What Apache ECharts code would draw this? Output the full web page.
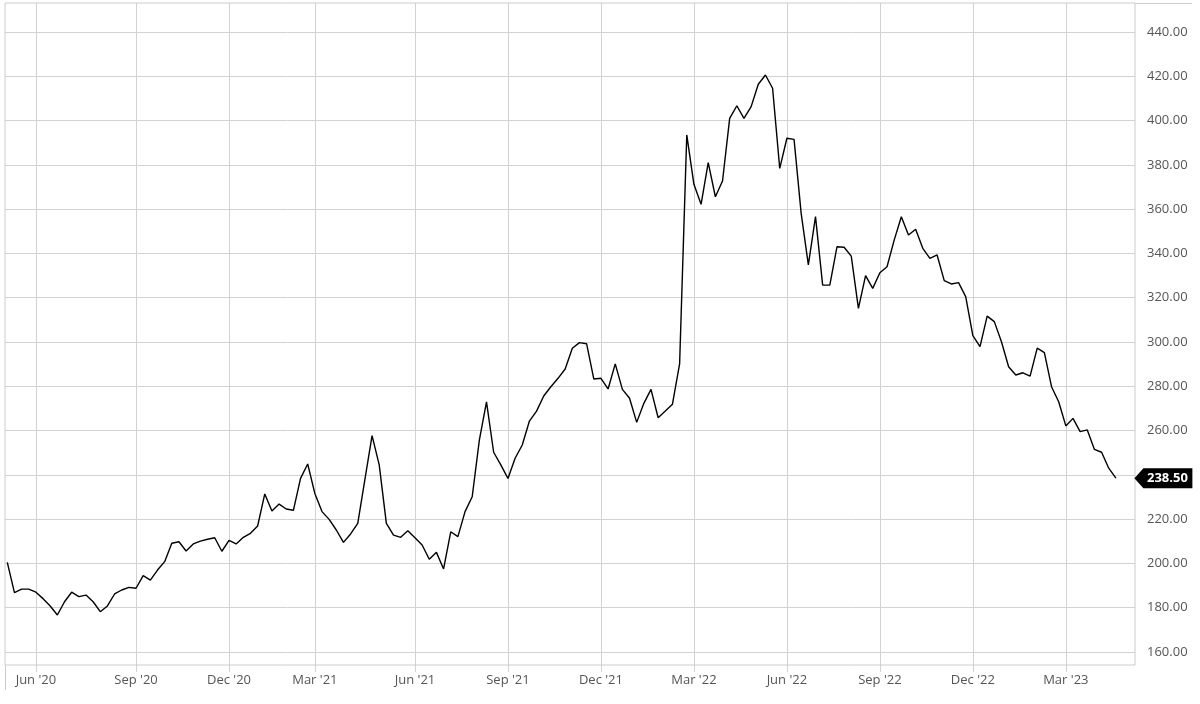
<!DOCTYPE html>
<html>
<head>
<meta charset="utf-8">
<script src="https://cdn.jsdelivr.net/npm/echarts@6/dist/echarts.min.js"></script>
<style>
  html, body { margin: 0; padding: 0; background: #fff; }
  #chart { width: 1200px; height: 704px; }
</style>
</head>
<body>
<div id="chart"></div>
<script>
// ---- Data (weekly closes, Mondays starting 2020-05-04) ----
const startDate = [2020, 4, 4]; // year, month(0-based), day
const prices = [
  200.5, 186.8, 188.4, 188.4, 187.0, 184.1, 180.8, 176.7, 182.7, 187.0,
  185.0, 185.7, 182.7, 178.2, 180.8, 186.2, 188.0, 189.2, 188.8, 194.5,
  192.5, 197.0, 200.8, 209.1, 209.8, 205.6, 208.8, 210.1, 210.9, 211.6,
  205.5, 210.4, 208.8, 211.8, 213.6, 216.9, 231.4, 223.7, 226.8, 224.6,
  224.0, 238.4, 244.9, 231.6, 223.4, 219.9, 215.1, 209.5, 213.3, 218.1,
  238.0, 257.7, 244.5, 218.1, 212.8, 211.8, 214.8, 211.6, 208.3, 201.9,
  205.0, 197.5, 214.3, 212.1, 223.4, 230.1, 255.7, 273.0, 250.2, 244.5,
  238.4, 247.5, 253.5, 264.3, 268.8, 275.6, 279.8, 283.6, 287.8, 297.2,
  299.7, 299.2, 283.3, 283.6, 278.8, 290.1, 278.6, 274.6, 263.7, 272.3,
  278.6, 265.8, 268.8, 271.9, 290.1, 393.5, 371.2, 362.2, 381.0, 365.6,
  372.7, 401.0, 406.7, 401.0, 406.3, 416.4, 420.6, 414.6, 378.4, 392.0,
  391.5, 358.0, 334.8, 356.6, 325.7, 325.7, 343.0, 342.8, 338.8, 315.2,
  330.0, 324.2, 331.3, 334.0, 346.0, 356.6, 348.3, 350.9, 342.3, 337.8,
  339.3, 327.7, 326.2, 326.8, 320.5, 302.9, 297.9, 311.7, 309.2, 300.1,
  288.8, 285.1, 286.1, 284.6, 297.2, 295.2, 279.8, 273.0, 262.1, 265.5,
  259.5, 260.3, 251.5, 250.2, 243.0, 238.5
];
const yMin = 160, yMax = 440, yStep = 20;
const monthNames = ['Jan','Feb','Mar','Apr','May','Jun','Jul','Aug','Sep','Oct','Nov','Dec'];
const labelMonths = [2, 5, 8, 11]; // Mar, Jun, Sep, Dec

// categories: weekly dates
const dates = prices.map((_, i) => {
  const d = new Date(Date.UTC(startDate[0], startDate[1], startDate[2] + 7 * i));
  return d.toISOString().slice(0, 10);
});
function isLabelWeek(index) {
  const d = new Date(dates[index] + 'T00:00:00Z');
  return d.getUTCDate() <= 7 && labelMonths.indexOf(d.getUTCMonth()) >= 0;
}
function fmtDate(v) {
  const d = new Date(v + 'T00:00:00Z');
  return monthNames[d.getUTCMonth()] + " '" + String(d.getUTCFullYear()).slice(2);
}

// ---- Layout ----
const frame = { left: 5, right: 65, top: 3, bottom: 39 };
const valueGrid = { top: 32, bottom: 52 };
const ppu = (704 - valueGrid.top - valueGrid.bottom) / (yMax - yMin);
const plotMin = yMin - (valueGrid.bottom - frame.bottom) / ppu;
const plotMax = yMax + (valueGrid.top - frame.top) / ppu;
const seriesLeft = 7.3, seriesRight = 84.1;
const gridColor = '#d2d2d2';
const textColor = '#555';
const fontFamily = '"Open Sans", "Noto Sans", sans-serif';
const last = prices.length - 1;

const chart = echarts.init(document.getElementById('chart'), null, { renderer: 'canvas' });
chart.setOption({
  animation: false,
  backgroundColor: '#fff',
  grid: [
    { left: frame.left, right: frame.right, top: frame.top, bottom: frame.bottom,
      show: true, borderColor: '#cccccc', borderWidth: 1, backgroundColor: 'transparent', z: 1 },
    { left: frame.left, right: frame.right, top: valueGrid.top, bottom: valueGrid.bottom },
    { left: seriesLeft, right: seriesRight, top: frame.top, bottom: frame.bottom }
  ],
  xAxis: [
    { gridIndex: 0, type: 'value', show: false },
    { gridIndex: 1, type: 'value', show: false },
    {
      gridIndex: 2, type: 'category', data: dates, boundaryGap: false,
      axisLine: { show: false },
      axisTick: { show: true, interval: isLabelWeek, length: 7, lineStyle: { color: gridColor } },
      splitLine: { show: true, interval: isLabelWeek, lineStyle: { color: gridColor, width: 1 } },
      axisLabel: { interval: isLabelWeek, formatter: fmtDate, margin: 9,
                   color: textColor, fontSize: 13, fontFamily: fontFamily }
    }
  ],
  yAxis: [
    { gridIndex: 0, type: 'value', show: false },
    {
      gridIndex: 1, type: 'value', position: 'right', min: yMin, max: yMax, interval: yStep,
      axisLine: { show: false }, axisTick: { show: false },
      splitLine: { show: true, lineStyle: { color: gridColor, width: 1 } },
      axisLabel: { margin: 12, color: textColor, fontSize: 13, fontFamily: fontFamily,
                   formatter: v => v.toFixed(2) }
    },
    { gridIndex: 2, type: 'value', min: plotMin, max: plotMax, show: false }
  ],
  graphic: [
    { type: 'line', silent: true, shape: { x1: 1135, y1: 3.5, x2: 1192, y2: 3.5 },
      style: { stroke: '#cccccc', lineWidth: 1 } },
    { type: 'line', silent: true, shape: { x1: 5.5, y1: 665, x2: 5.5, y2: 690 },
      style: { stroke: '#cccccc', lineWidth: 1 } }
  ],
  series: [{
    type: 'line',
    xAxisIndex: 2, yAxisIndex: 2,
    data: prices,
    showSymbol: false,
    clip: false,
    lineStyle: { color: '#000', width: 1.4 },
    z: 5,
    markPoint: {
      silent: true,
      animation: false,
      symbol: 'path://M0,10L9,0L58,0L58,20L9,20Z',
      symbolSize: [58, 20],
      symbolOffset: [47.5, 0],
      itemStyle: { color: '#000' },
      label: { show: true, position: 'inside', offset: [4, 0], color: '#fff',
               fontWeight: 'bold', fontSize: 13, fontFamily: fontFamily,
               formatter: () => prices[last].toFixed(2) },
      data: [{ coord: [dates[last], prices[last]] }]
    }
  }]
});
</script>
</body>
</html>
